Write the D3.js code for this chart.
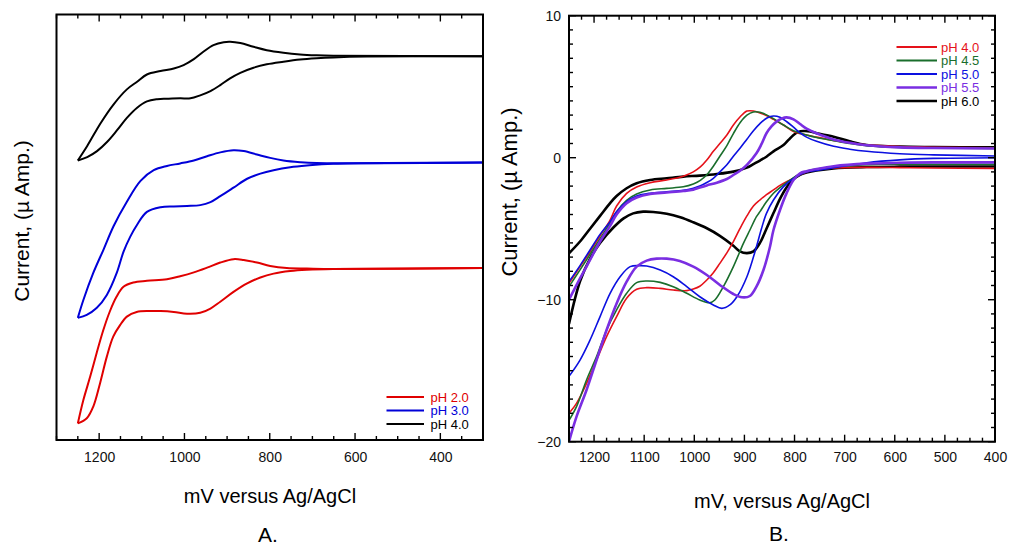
<!DOCTYPE html>
<html>
<head>
<meta charset="utf-8">
<script src="https://cdn.jsdelivr.net/npm/d3@7"></script>
<style>
  html, body { margin: 0; padding: 0; background: #fff; }
  svg { display: block; font-family: "Liberation Sans", Arial, Helvetica, sans-serif; }
</style>
</head>
<body>
<svg id="chart" width="1014" height="546"></svg>
<script>
// ---------------- DATA: Panel A (offset, arbitrary current units) ----------------
const xTicksA = [1200, 1000, 800, 600, 400];
const labelsA = ["pH 2.0", "pH 3.0", "pH 4.0"];
// [mV, current (arb.)] — outer and inner branches of each voltammogram
const a_pH2_up = [[1250,3.9],[1237,9.4],[1221,14.9],[1206,20.4],[1190,25.9],[1175,30.2],[1159,33.7],[1143,36.0],[1120,37.0],[1088,37.4],[1041,37.8],[1010,38.5],[978,39.4],[947,40.5],[916,41.7],[885,42.5],[861,42.3],[830,41.7],[799,40.9],[760,40.4],[713,40.3],[651,40.2],[300,40.4]];
const a_pH2_dn = [[1250,3.9],[1229,5.1],[1214,7.8],[1198,13.3],[1182,19.6],[1167,24.3],[1151,27.0],[1135,29.0],[1112,30.1],[1081,30.3],[1056,30.3],[1025,30.1],[994,29.7],[963,29.9],[939,30.9],[916,32.5],[885,34.8],[853,36.8],[822,38.2],[791,39.1],[752,39.7],[713,40.0],[651,40.2],[300,40.4]];
const a_pH3_up = [[1250,28.7],[1237,32.9],[1214,39.2],[1190,44.7],[1166,50.3],[1135,56.0],[1103,60.9],[1072,63.4],[1041,64.4],[1010,65.0],[978,65.7],[947,66.7],[916,67.6],[885,68.1],[861,67.9],[830,67.1],[799,66.3],[768,65.7],[729,65.3],[690,65.1],[300,65.2]];
const a_pH3_dn = [[1250,28.7],[1229,29.4],[1206,31.0],[1182,34.1],[1159,39.2],[1143,44.2],[1127,47.8],[1111,50.6],[1088,53.6],[1056,54.7],[1025,54.9],[994,55.0],[963,55.2],[939,55.9],[916,57.3],[885,59.3],[853,61.4],[822,62.6],[791,63.4],[752,64.1],[713,64.5],[651,64.9],[300,65.2]];
const a_pH4_up = [[1250,65.7],[1228,69.1],[1197,74.4],[1166,78.9],[1135,82.4],[1111,84.2],[1088,85.9],[1056,86.7],[1025,87.3],[1002,88.1],[978,89.5],[955,91.3],[932,92.8],[908,93.5],[893,93.6],[869,93.3],[838,92.4],[807,91.6],[768,91.0],[729,90.6],[690,90.4],[651,90.3],[300,90.2]];
const a_pH4_dn = [[1250,65.7],[1228,66.5],[1205,67.9],[1181,70.1],[1158,72.8],[1135,75.7],[1111,78.1],[1088,79.6],[1064,80.1],[1041,80.2],[1010,80.3],[986,80.3],[963,81.0],[939,82.0],[916,83.4],[893,85.0],[869,86.3],[838,87.5],[807,88.3],[768,88.9],[729,89.4],[690,89.7],[651,89.9],[572,90.1],[300,90.2]];

// ---------------- DATA: Panel B (µA) ----------------
const xTicksB = [1200, 1100, 1000, 900, 800, 700, 600, 500, 400];
const yTicksB = [10, 0, -10, -20];
const labelsB = ["pH 4.0", "pH 4.5", "pH 5.0", "pH 5.5", "pH 6.0"];
const b_pH40_up = [[1250,-8.85],[1228,-7.67],[1208,-6.62],[1188,-5.5],[1168,-4.39],[1155,-3.4],[1135,-2.51],[1115,-2.06],[1088,-1.76],[1055,-1.57],[1022,-1.30],[1002,-1.0],[988,-0.65],[975,-0.16],[962,0.45],[949,1.0],[935,1.6],[922,2.3],[908,2.9],[895,3.28],[882,3.29],[869,3.15],[855,2.95],[842,2.7],[822,2.3],[802,1.85],[776,1.6],[756,1.45],[722,1.22],[690,1.05],[656,0.9],[590,0.78],[523,0.73],[400,0.7]];
const b_pH40_dn = [[400,-0.75],[523,-0.73],[590,-0.7],[656,-0.68],[722,-0.72],[756,-0.85],[776,-1.0],[789,-1.2],[802,-1.45],[816,-1.69],[829,-1.95],[842,-2.27],[856,-2.6],[869,-2.98],[882,-3.4],[895,-4.1],[909,-5.0],[922,-5.91],[935,-6.7],[949,-7.44],[962,-8.1],[975,-8.61],[989,-9.05],[1002,-9.25],[1015,-9.36],[1042,-9.32],[1068,-9.2],[1095,-9.15],[1115,-9.27],[1135,-9.9],[1155,-11.19],[1175,-12.6],[1195,-14.25],[1215,-15.89],[1235,-17.3],[1250,-18.0]];
const b_pH45_up = [[1250,-9.08],[1228,-7.9],[1208,-6.8],[1188,-5.7],[1168,-4.6],[1155,-3.8],[1135,-3.0],[1115,-2.55],[1088,-2.27],[1055,-2.16],[1022,-2.05],[1002,-1.85],[988,-1.6],[975,-1.2],[962,-0.6],[949,0.1],[935,0.85],[922,1.7],[908,2.5],[895,3.0],[882,3.22],[869,3.2],[855,3.0],[842,2.75],[822,2.3],[802,1.9],[776,1.6],[756,1.42],[722,1.2],[690,1.0],[656,0.85],[590,0.72],[523,0.68],[400,0.66]];
const b_pH45_dn = [[400,-0.47],[523,-0.46],[590,-0.46],[656,-0.5],[722,-0.65],[756,-0.8],[776,-0.95],[789,-1.15],[802,-1.4],[816,-1.75],[829,-2.1],[842,-2.5],[856,-3.1],[869,-3.8],[876,-4.15],[889,-5.09],[902,-6.03],[922,-7.67],[942,-9.08],[959,-10.02],[969,-10.21],[989,-10.02],[1015,-9.55],[1042,-9.08],[1068,-8.78],[1095,-8.68],[1115,-8.8],[1135,-9.55],[1155,-10.72],[1175,-12.13],[1195,-14.01],[1215,-15.65],[1235,-17.53],[1250,-18.5]];
const b_pH50_up = [[1250,-8.73],[1228,-7.6],[1208,-6.5],[1188,-5.4],[1168,-4.5],[1155,-3.8],[1135,-3.1],[1115,-2.7],[1088,-2.5],[1055,-2.4],[1022,-2.3],[1002,-2.15],[989,-2.0],[975,-1.75],[962,-1.45],[949,-1.0],[935,-0.5],[922,0.1],[908,0.7],[895,1.3],[882,1.9],[869,2.4],[855,2.8],[842,2.94],[829,2.85],[816,2.55],[802,2.15],[789,1.75],[776,1.45],[756,1.15],[722,0.8],[690,0.6],[656,0.45],[590,0.28],[523,0.2],[400,0.12]];
const b_pH50_dn = [[400,0.0],[523,-0.05],[590,-0.15],[656,-0.35],[722,-0.7],[756,-0.9],[776,-1.0],[789,-1.2],[802,-1.45],[822,-2.04],[842,-2.98],[856,-3.92],[866,-5.0],[876,-6.27],[895,-8.38],[915,-9.79],[929,-10.37],[945,-10.61],[962,-10.37],[989,-9.79],[1015,-9.08],[1042,-8.38],[1068,-7.91],[1095,-7.63],[1108,-7.6],[1128,-7.67],[1148,-8.38],[1168,-9.55],[1188,-11.19],[1208,-12.84],[1228,-14.25],[1250,-15.4]];
const b_pH55_up = [[1250,-10.0],[1228,-8.5],[1208,-7.2],[1188,-5.9],[1168,-4.8],[1155,-4.0],[1135,-3.2],[1115,-2.8],[1088,-2.55],[1055,-2.45],[1022,-2.35],[1002,-2.25],[989,-2.1],[975,-1.95],[955,-1.76],[935,-1.5],[922,-1.22],[908,-0.9],[895,-0.51],[876,0.31],[866,0.95],[856,1.72],[846,2.2],[836,2.54],[826,2.75],[816,2.84],[802,2.7],[789,2.37],[776,2.05],[756,1.72],[722,1.29],[690,1.05],[656,0.88],[590,0.73],[523,0.68],[400,0.65]];
const b_pH55_dn = [[400,-0.33],[523,-0.33],[590,-0.36],[656,-0.42],[722,-0.6],[756,-0.8],[776,-0.95],[789,-1.1],[802,-1.57],[816,-2.51],[829,-3.68],[842,-5.09],[849,-6.27],[862,-7.91],[876,-9.08],[889,-9.74],[905,-9.83],[922,-9.6],[949,-8.96],[975,-8.26],[1002,-7.67],[1029,-7.27],[1055,-7.11],[1075,-7.11],[1095,-7.25],[1115,-7.67],[1135,-8.73],[1155,-10.26],[1175,-12.13],[1195,-14.25],[1215,-16.36],[1235,-18.24],[1250,-20.0]];
const b_pH60_up = [[1250,-6.73],[1228,-5.9],[1208,-5.0],[1188,-4.1],[1168,-3.2],[1155,-2.7],[1135,-2.15],[1115,-1.8],[1088,-1.57],[1055,-1.45],[1022,-1.33],[989,-1.26],[955,-1.15],[922,-0.98],[895,-0.7],[882,-0.45],[869,-0.2],[856,0.07],[842,0.45],[822,0.89],[812,1.25],[802,1.6],[792,1.82],[782,1.88],[769,1.85],[756,1.72],[722,1.48],[690,1.15],[656,0.89],[590,0.78],[523,0.75],[400,0.73]];
const b_pH60_dn = [[400,-0.62],[523,-0.62],[590,-0.63],[656,-0.66],[722,-0.75],[756,-0.9],[776,-1.05],[789,-1.2],[802,-1.5],[816,-2.1],[829,-2.9],[842,-3.9],[856,-5.0],[869,-6.0],[882,-6.6],[895,-6.72],[909,-6.6],[922,-6.2],[949,-5.5],[975,-4.97],[1002,-4.55],[1028,-4.2],[1055,-3.95],[1082,-3.82],[1102,-3.8],[1122,-3.92],[1141,-4.27],[1161,-4.9],[1188,-6.0],[1208,-7.1],[1228,-8.7],[1250,-11.7]];

// ---------------- STYLES ----------------
const colorsA = ["#e00000", "#0000d8", "#000000"];
const colorsB = ["#e5121a", "#1a6e2c", "#0c10e0", "#7a2ee2", "#000000"];
const widthsB = [1.6, 1.6, 1.6, 2.6, 2.6];

const svg = d3.select("#chart");
const font = '"Liberation Sans", Arial, Helvetica, sans-serif';
const fmt = d3.format("d");

function frameAndTicks(g, x, y, opt) {
  const [x0, x1] = x.range(), [y0, y1] = y.range();
  opt.xMinor.forEach(v => {
    const L = opt.xMajor.includes(v) ? 7 : 4;
    const px = x(v);
    g.append("line").attr("x1", px).attr("x2", px).attr("y1", y0).attr("y2", y0 - L)
      .attr("stroke", "#000").attr("stroke-width", 1.4);
    g.append("line").attr("x1", px).attr("x2", px).attr("y1", y1).attr("y2", y1 + L)
      .attr("stroke", "#000").attr("stroke-width", 1.4);
  });
  if (opt.yMinor) {
    opt.yMinor.forEach(v => {
      const L = opt.yMajor.includes(v) ? 7 : 4;
      const py = y(v);
      g.append("line").attr("x1", x0).attr("x2", x0 + L).attr("y1", py).attr("y2", py)
        .attr("stroke", "#000").attr("stroke-width", 1.4);
      g.append("line").attr("x1", x1).attr("x2", x1 - L).attr("y1", py).attr("y2", py)
        .attr("stroke", "#000").attr("stroke-width", 1.4);
    });
  }
  g.append("rect").attr("x", x0).attr("y", y1).attr("width", x1 - x0).attr("height", y0 - y1)
    .attr("fill", "none").attr("stroke", "#000").attr("stroke-width", 2);
}

// ================= PANEL A =================
{
  const x = d3.scaleLinear().domain([1300, 300]).range([56.5, 483]);
  const y = d3.scaleLinear().domain([0, 100]).range([440, 14.5]);
  const g = svg.append("g");
  svg.append("clipPath").attr("id", "clipA").append("rect")
    .attr("x", 56.5).attr("y", 14.5).attr("width", 426.5).attr("height", 425.5);
  const line = d3.line().x(d => x(d[0])).y(d => y(d[1])).curve(d3.curveCatmullRom.alpha(0.5));
  const series = [[a_pH4_up, a_pH4_dn], [a_pH3_up, a_pH3_dn], [a_pH2_up, a_pH2_dn]];
  const cols = [colorsA[2], colorsA[1], colorsA[0]];
  const cg = g.append("g").attr("clip-path", "url(#clipA)");
  series.forEach((pair, i) => {
    pair.forEach(br => {
      cg.append("path").attr("d", line(br)).attr("fill", "none")
        .attr("stroke", cols[i]).attr("stroke-width", 2).attr("stroke-linejoin", "round");
    });
  });
  frameAndTicks(g, x, y, { xMinor: d3.range(1300, 299, -50), xMajor: xTicksA });
  const xa = d3.axisBottom(x).tickValues(xTicksA).tickFormat(fmt).tickSize(0).tickPadding(0);
  const ax = g.append("g").attr("transform", "translate(0,452)").call(xa);
  ax.select(".domain").remove();
  ax.selectAll("text").attr("font-size", 14).attr("font-family", font).attr("fill", "#111").attr("dy", "0.71em");
  g.append("text").attr("x", 270).attr("y", 503).attr("text-anchor", "middle")
    .attr("font-size", 20).attr("font-family", font).text("mV versus Ag/AgCl");
  g.append("text").attr("x", 268).attr("y", 542).attr("text-anchor", "middle")
    .attr("font-size", 21).attr("font-family", font).text("A.");
  g.append("text").attr("transform", "translate(29,221) rotate(-90)").attr("text-anchor", "middle")
    .attr("font-size", 21).attr("font-family", font).text("Current, (µ Amp.)");
  labelsA.forEach((lab, i) => {
    const ly = 397 + i * 13.5;
    g.append("line").attr("x1", 386.5).attr("x2", 424).attr("y1", ly).attr("y2", ly)
      .attr("stroke", colorsA[i]).attr("stroke-width", 2);
    g.append("text").attr("x", 430.5).attr("y", ly).attr("dy", "0.36em")
      .attr("font-size", 13).attr("font-family", font).attr("fill", colorsA[i]).text(lab);
  });
}

// ================= PANEL B =================
{
  const x = d3.scaleLinear().domain([1250, 400]).range([569, 995]);
  const y = d3.scaleLinear().domain([-20, 10]).range([441.7, 15.7]);
  const g = svg.append("g");
  svg.append("clipPath").attr("id", "clipB").append("rect")
    .attr("x", 569).attr("y", 15.7).attr("width", 426).attr("height", 426);
  const line = d3.line().x(d => x(d[0])).y(d => y(d[1])).curve(d3.curveCatmullRom.alpha(0.5));
  const series = [[b_pH40_up, b_pH40_dn], [b_pH45_up, b_pH45_dn], [b_pH50_up, b_pH50_dn], [b_pH55_up, b_pH55_dn], [b_pH60_up, b_pH60_dn]];
  const cg = g.append("g").attr("clip-path", "url(#clipB)");
  [4, 0, 1, 2, 3].forEach(i => {
    series[i].forEach(br => {
      cg.append("path").attr("d", line(br)).attr("fill", "none")
        .attr("stroke", colorsB[i]).attr("stroke-width", widthsB[i]).attr("stroke-linejoin", "round");
    });
  });
  frameAndTicks(g, x, y, {
    xMinor: d3.range(1250, 399, -25), xMajor: xTicksB,
    yMinor: d3.range(-20, 10.5, 1), yMajor: yTicksB
  });
  const xa = d3.axisBottom(x).tickValues(xTicksB).tickFormat(fmt).tickSize(0).tickPadding(0);
  const ax = g.append("g").attr("transform", "translate(0,452)").call(xa);
  ax.select(".domain").remove();
  ax.selectAll("text").attr("font-size", 14).attr("font-family", font).attr("fill", "#111").attr("dy", "0.71em");
  const ya = d3.axisLeft(y).tickValues(yTicksB).tickFormat(fmt).tickSize(0).tickPadding(0);
  const ay = g.append("g").attr("transform", "translate(561,0)").call(ya);
  ay.select(".domain").remove();
  ay.selectAll("text").attr("font-size", 14).attr("font-family", font).attr("fill", "#111");
  g.append("text").attr("x", 782).attr("y", 508).attr("text-anchor", "middle")
    .attr("font-size", 20).attr("font-family", font).text("mV, versus Ag/AgCl");
  g.append("text").attr("x", 779).attr("y", 541).attr("text-anchor", "middle")
    .attr("font-size", 21).attr("font-family", font).text("B.");
  g.append("text").attr("transform", "translate(517,192) rotate(-90)").attr("text-anchor", "middle")
    .attr("font-size", 22).attr("font-family", font).text("Current, (µ Amp.)");
  labelsB.forEach((lab, i) => {
    const ly = 47 + i * 13.5;
    g.append("line").attr("x1", 896.5).attr("x2", 937).attr("y1", ly).attr("y2", ly)
      .attr("stroke", colorsB[i]).attr("stroke-width", i >= 3 ? 2.6 : 2);
    g.append("text").attr("x", 941).attr("y", ly).attr("dy", "0.36em")
      .attr("font-size", 13).attr("font-family", font).attr("fill", colorsB[i]).text(lab);
  });
}
</script>
</body>
</html>
